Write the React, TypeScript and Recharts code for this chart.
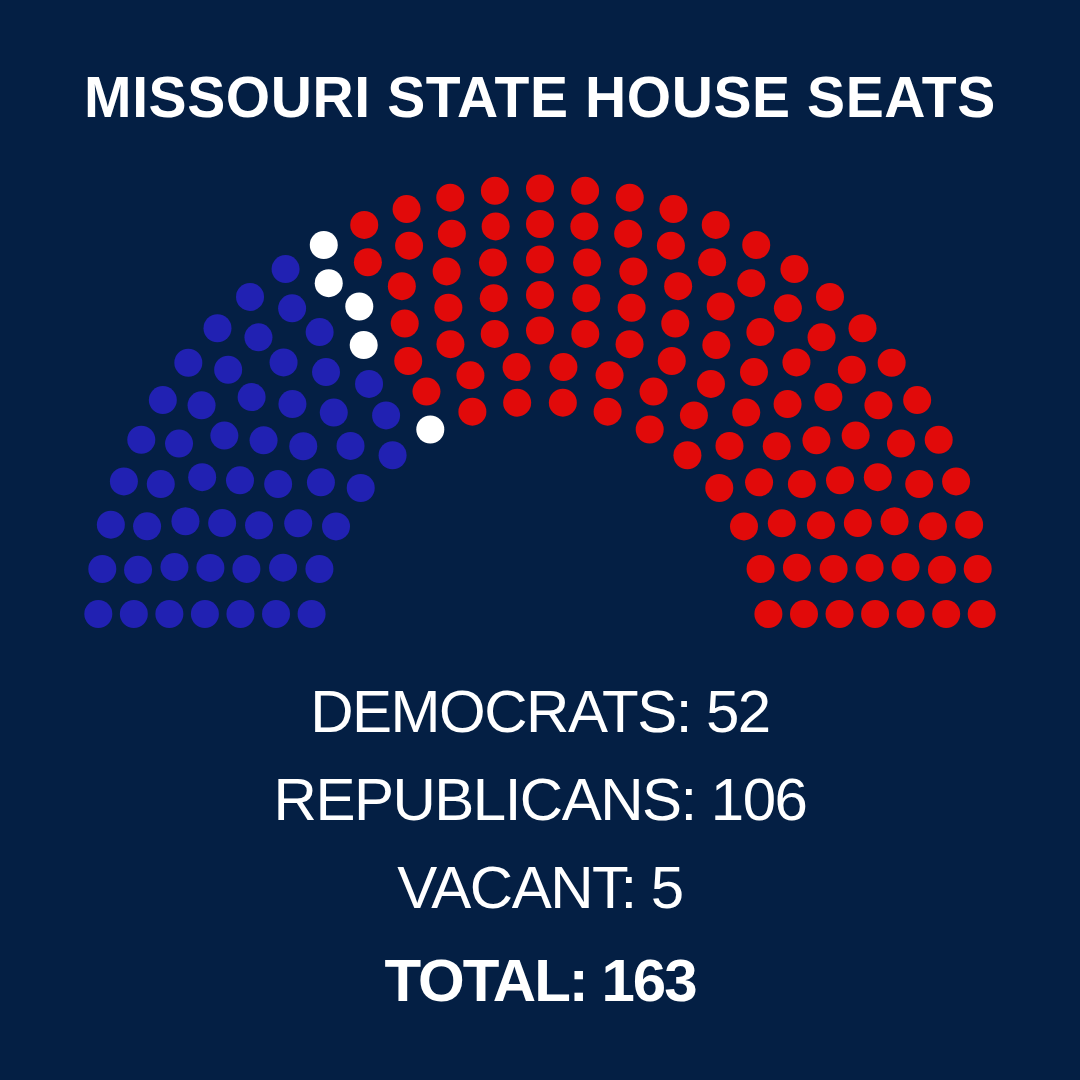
import { ScatterChart, Scatter, XAxis, YAxis } from "recharts";

const parties = ["DEMOCRATS", "VACANT", "REPUBLICANS"];
const seats = [52, 5, 106];
const colors = ["#2121B2", "#FFFFFF", "#E10A0A"];

// seats per row, inner to outer
const rowSeats = [16, 18, 21, 23, 25, 29, 31];

const legendLabels = ["DEMOCRATS", "REPUBLICANS", "VACANT"];
const legendValues = [52, 106, 5];
const totalSeats = 163;

// hemicycle geometry (chart units are 1:1 with pixels)
const INNER_R = 229;
const ROW_GAP = 35.5;
const EDGE = 16.5;
const DOT_R = 14;

function buildSeats() {
  const pos: { x: number; y: number; phi: number; r: number }[] = [];
  rowSeats.forEach((n, i) => {
    const R = INNER_R + i * ROW_GAP;
    const a = Math.asin(EDGE / R);
    for (let j = 0; j < n; j++) {
      const phi = a + (j * (Math.PI - 2 * a)) / (n - 1);
      pos.push({ x: -R * Math.cos(phi), y: R * Math.sin(phi), phi, r: R });
    }
  });
  pos.sort((p, q) => p.phi - q.phi || q.r - p.r);

  const groups: { x: number; y: number }[][] = parties.map(() => []);
  let k = 0;
  seats.forEach((s, pi) => {
    for (let j = 0; j < s; j++, k++) groups[pi].push({ x: pos[k].x, y: pos[k].y });
  });
  return groups;
}

const groups = buildSeats();

const Dot = (props: any) => <circle cx={props.cx} cy={props.cy} r={DOT_R} fill={props.fill} />;

export default function App() {
  const font = "'Liberation Sans', Arial, Helvetica, sans-serif";
  return (
    <div style={{ position: "relative", width: 1080, height: 1080, background: "#041F44" }}>
      <style>{"body{margin:0}"}</style>
      <ScatterChart width={1080} height={1080} margin={{ top: 0, right: 0, bottom: 0, left: 0 }}>
        <XAxis type="number" dataKey="x" domain={[-540, 540]} hide allowDataOverflow />
        <YAxis type="number" dataKey="y" domain={[-449.5, 630.5]} hide allowDataOverflow />
        {groups.map((g, i) => (
          <Scatter key={parties[i]} name={parties[i]} data={g} fill={colors[i]} shape={Dot} isAnimationActive={false} />
        ))}
      </ScatterChart>
      <svg width={1080} height={1080} style={{ position: "absolute", left: 0, top: 0, pointerEvents: "none" }}>
        <text x={540} y={117} textAnchor="middle" fill="#fff" fontFamily={font} fontWeight="bold" fontSize={57} letterSpacing={0.6}>
          MISSOURI STATE HOUSE SEATS
        </text>
        {legendLabels.map((l, i) => (
          <text key={l} x={540} y={732 + i * 88} textAnchor="middle" fill="#fff" fontFamily={font} fontSize={60} letterSpacing={-1.5}>
            {`${l}: ${legendValues[i]}`}
          </text>
        ))}
        <text x={540} y={1001} textAnchor="middle" fill="#fff" fontFamily={font} fontWeight="bold" fontSize={60} letterSpacing={-2}>
          {`TOTAL: ${totalSeats}`}
        </text>
      </svg>
    </div>
  );
}
